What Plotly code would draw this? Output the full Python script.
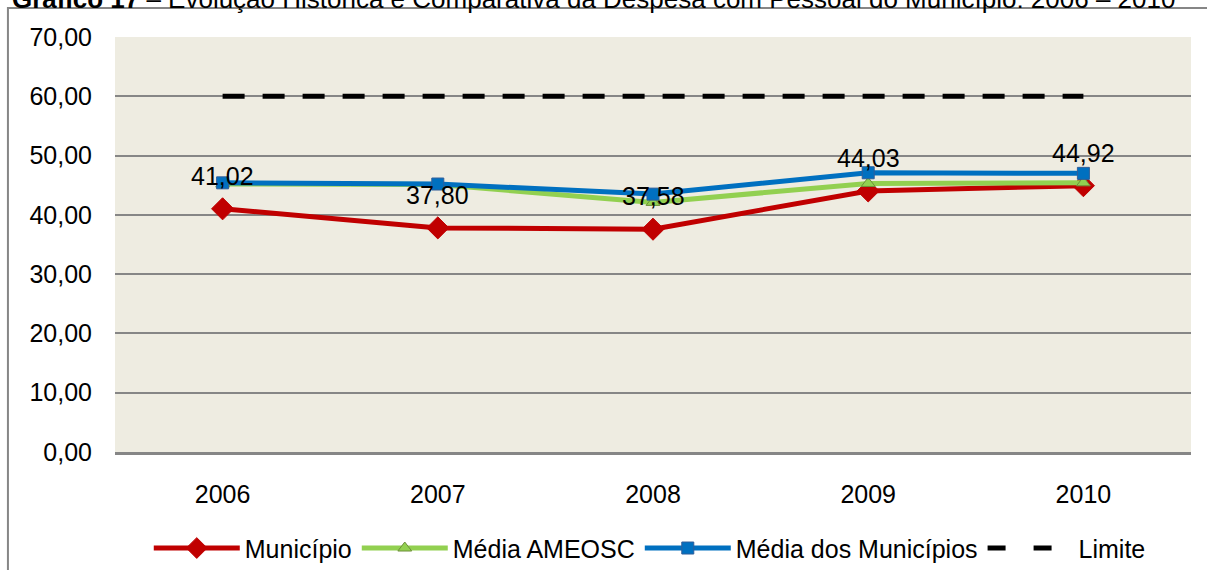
import plotly.graph_objects as go

years = ["2006", "2007", "2008", "2009", "2010"]
municipio = [41.02, 37.80, 37.58, 44.03, 44.92]
media_ameosc = [45.2, 45.1, 42.1, 45.3, 45.4]
media_municipios = [45.4, 45.2, 43.5, 47.1, 47.0]
limite = [60, 60, 60, 60, 60]
label_text = ["41,02", "37,80", "37,58", "44,03", "44,92"]
title_text = "<b>Gráfico 17</b> – Evolução Histórica e Comparativa da Despesa com Pessoal do Município: 2006 – 2010"

FONT = "Liberation Sans, Arial, sans-serif"
FS = 25

fig = go.Figure()
fig.add_trace(go.Scatter(
    x=years, y=municipio, name="Município", mode="lines+markers",
    line=dict(color="#C00000", width=5),
    marker=dict(symbol="diamond", size=17, color="#C00000", line=dict(color="#C00000", width=1)),
))
fig.add_trace(go.Scatter(
    x=years, y=media_ameosc, name="Média AMEOSC", mode="lines+markers",
    line=dict(color="#92D050", width=5),
    marker=dict(symbol="triangle-up", size=12, color="#92D050", line=dict(color="#6E8F3A", width=1)),
))
fig.add_trace(go.Scatter(
    x=years, y=media_municipios, name="Média dos Municípios", mode="lines+markers",
    line=dict(color="#0070C0", width=5),
    marker=dict(symbol="square", size=12, color="#0070C0", line=dict(color="#2F5E9A", width=1)),
))
fig.add_trace(go.Scatter(
    x=years, y=limite, name="Limite", mode="lines", showlegend=False,
    line=dict(color="#000000", width=5, dash="22px,18px"),
))
# legend entry for Limite (two dashes in the sample)
fig.add_trace(go.Scatter(
    x=[None], y=[None], name="Limite", mode="lines",
    line=dict(color="#000000", width=5, dash="18px,28px"),
))

for i, (y, t) in enumerate(zip(municipio, label_text)):
    fig.add_annotation(x=i, y=y, text=t, showarrow=False, yshift=33,
                       font=dict(family=FONT, size=FS, color="#000000"))

fig.add_annotation(xref="paper", yref="paper", x=-0.098, y=1.092, xanchor="left", yanchor="middle",
                   text=title_text, showarrow=False,
                   font=dict(family=FONT, size=26, color="#000000"))

fig.add_shape(type="rect", xref="paper", yref="paper", x0=-0.0995, x1=1.05, y0=-0.4, y1=1.0699,
              line=dict(color="#868686", width=2), fillcolor="rgba(0,0,0,0)", layer="below")

fig.update_layout(
    width=1207, height=570,
    margin=dict(l=115, r=16, t=37, b=118, autoexpand=False),
    paper_bgcolor="#FFFFFF",
    plot_bgcolor="#EEECE1",
    separators=",.",
    font=dict(family=FONT, size=FS, color="#000000"),
    showlegend=True,
    legend=dict(orientation="h", x=0.497, xanchor="center", y=-0.232, yanchor="middle",
                font=dict(family=FONT, size=FS), itemwidth=86, tracegroupgap=0,
                bgcolor="rgba(0,0,0,0)"),
    xaxis=dict(type="category", range=[-0.5, 4.5], showgrid=False, showline=True,
               linecolor="#868686", linewidth=2.5, ticks="", ticklabelstandoff=18,
               tickfont=dict(family=FONT, size=FS), zeroline=False),
    yaxis=dict(range=[0, 70], dtick=10, tickformat=".2f", showgrid=True,
               gridcolor="#868686", gridwidth=1.5, showline=False, zeroline=False,
               ticks="", ticklabelstandoff=22, tickfont=dict(family=FONT, size=FS)),
)

fig.write_html("out.html", config={"displayModeBar": False},
               post_script="document.body.style.margin='0';")
